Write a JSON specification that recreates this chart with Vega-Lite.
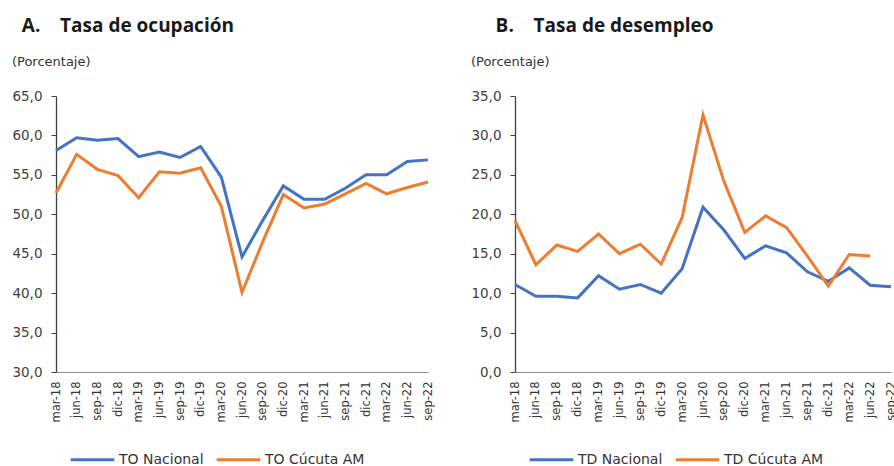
{
  "$schema": "https://vega.github.io/schema/vega-lite/v6.json",
  "padding": {"left": 11, "top": 17, "right": 0, "bottom": 0},
  "background": "white",
  "config": {
    "locale": {"number": {"decimal": ",", "thousands": ".", "grouping": [3], "currency": ["$", ""]}},
    "view": {"stroke": null},
    "font": "DejaVu Sans",
    "concat": {"spacing": 36},
    "axisX": {"labelAngle": -90, "labelFont": "DejaVu Sans", "labelFontSize": 11.5, "labelColor": "#333333", "ticks": false, "domainColor": "#8c8c8c", "domainWidth": 1.2, "labelPadding": 9, "grid": false, "title": null, "labelAlign": "right", "labelBaseline": "middle"},
    "axisY": {"labelFont": "DejaVu Sans", "labelFontSize": 13.5, "labelColor": "#404040", "tickSize": 5, "tickColor": "#404040", "domainColor": "#404040", "domainWidth": 1.3, "labelPadding": 9, "grid": false, "title": null, "format": ".1f"},
    "legend": {"orient": "none", "direction": "horizontal", "symbolType": "stroke", "symbolSize": 1900, "symbolStrokeWidth": 3, "labelFont": "DejaVu Sans", "labelFontSize": 14, "labelColor": "#333333", "labelOffset": 3, "columnPadding": 6, "title": null, "legendX": 13, "legendY": 340},
    "title": {"anchor": "start", "frame": "bounds", "font": "Open Sans", "fontSize": 19, "fontWeight": "bold", "color": "#1a1a1a", "subtitleFont": "DejaVu Sans", "subtitleFontSize": 13, "subtitleColor": "#333333", "subtitlePadding": 20, "offset": 20}
  },
  "datasets": {
    "ocup": [
      {"periodo": "mar-18", "serie": "TO Nacional", "valor": 58.1},
      {"periodo": "jun-18", "serie": "TO Nacional", "valor": 59.7},
      {"periodo": "sep-18", "serie": "TO Nacional", "valor": 59.4},
      {"periodo": "dic-18", "serie": "TO Nacional", "valor": 59.6},
      {"periodo": "mar-19", "serie": "TO Nacional", "valor": 57.3},
      {"periodo": "jun-19", "serie": "TO Nacional", "valor": 57.9},
      {"periodo": "sep-19", "serie": "TO Nacional", "valor": 57.2},
      {"periodo": "dic-19", "serie": "TO Nacional", "valor": 58.6},
      {"periodo": "mar-20", "serie": "TO Nacional", "valor": 54.7},
      {"periodo": "jun-20", "serie": "TO Nacional", "valor": 44.6},
      {"periodo": "sep-20", "serie": "TO Nacional", "valor": 49.2},
      {"periodo": "dic-20", "serie": "TO Nacional", "valor": 53.6},
      {"periodo": "mar-21", "serie": "TO Nacional", "valor": 51.9},
      {"periodo": "jun-21", "serie": "TO Nacional", "valor": 51.9},
      {"periodo": "sep-21", "serie": "TO Nacional", "valor": 53.3},
      {"periodo": "dic-21", "serie": "TO Nacional", "valor": 55.0},
      {"periodo": "mar-22", "serie": "TO Nacional", "valor": 55.0},
      {"periodo": "jun-22", "serie": "TO Nacional", "valor": 56.7},
      {"periodo": "sep-22", "serie": "TO Nacional", "valor": 56.9},
      {"periodo": "mar-18", "serie": "TO Cúcuta AM", "valor": 52.7},
      {"periodo": "jun-18", "serie": "TO Cúcuta AM", "valor": 57.6},
      {"periodo": "sep-18", "serie": "TO Cúcuta AM", "valor": 55.7},
      {"periodo": "dic-18", "serie": "TO Cúcuta AM", "valor": 54.9},
      {"periodo": "mar-19", "serie": "TO Cúcuta AM", "valor": 52.1},
      {"periodo": "jun-19", "serie": "TO Cúcuta AM", "valor": 55.4},
      {"periodo": "sep-19", "serie": "TO Cúcuta AM", "valor": 55.2},
      {"periodo": "dic-19", "serie": "TO Cúcuta AM", "valor": 55.9},
      {"periodo": "mar-20", "serie": "TO Cúcuta AM", "valor": 51.0},
      {"periodo": "jun-20", "serie": "TO Cúcuta AM", "valor": 40.1},
      {"periodo": "sep-20", "serie": "TO Cúcuta AM", "valor": 46.5},
      {"periodo": "dic-20", "serie": "TO Cúcuta AM", "valor": 52.5},
      {"periodo": "mar-21", "serie": "TO Cúcuta AM", "valor": 50.8},
      {"periodo": "jun-21", "serie": "TO Cúcuta AM", "valor": 51.3},
      {"periodo": "sep-21", "serie": "TO Cúcuta AM", "valor": 52.6},
      {"periodo": "dic-21", "serie": "TO Cúcuta AM", "valor": 53.9},
      {"periodo": "mar-22", "serie": "TO Cúcuta AM", "valor": 52.6},
      {"periodo": "jun-22", "serie": "TO Cúcuta AM", "valor": 53.4},
      {"periodo": "sep-22", "serie": "TO Cúcuta AM", "valor": 54.1}
    ],
    "desemp": [
      {"periodo": "mar-18", "serie": "TD Nacional", "valor": 11.1},
      {"periodo": "jun-18", "serie": "TD Nacional", "valor": 9.6},
      {"periodo": "sep-18", "serie": "TD Nacional", "valor": 9.6},
      {"periodo": "dic-18", "serie": "TD Nacional", "valor": 9.4},
      {"periodo": "mar-19", "serie": "TD Nacional", "valor": 12.2},
      {"periodo": "jun-19", "serie": "TD Nacional", "valor": 10.5},
      {"periodo": "sep-19", "serie": "TD Nacional", "valor": 11.1},
      {"periodo": "dic-19", "serie": "TD Nacional", "valor": 10.0},
      {"periodo": "mar-20", "serie": "TD Nacional", "valor": 13.1},
      {"periodo": "jun-20", "serie": "TD Nacional", "valor": 20.9},
      {"periodo": "sep-20", "serie": "TD Nacional", "valor": 18.0},
      {"periodo": "dic-20", "serie": "TD Nacional", "valor": 14.4},
      {"periodo": "mar-21", "serie": "TD Nacional", "valor": 16.0},
      {"periodo": "jun-21", "serie": "TD Nacional", "valor": 15.1},
      {"periodo": "sep-21", "serie": "TD Nacional", "valor": 12.7},
      {"periodo": "dic-21", "serie": "TD Nacional", "valor": 11.5},
      {"periodo": "mar-22", "serie": "TD Nacional", "valor": 13.2},
      {"periodo": "jun-22", "serie": "TD Nacional", "valor": 11.0},
      {"periodo": "sep-22", "serie": "TD Nacional", "valor": 10.8},
      {"periodo": "mar-18", "serie": "TD Cúcuta AM", "valor": 19.2},
      {"periodo": "jun-18", "serie": "TD Cúcuta AM", "valor": 13.6},
      {"periodo": "sep-18", "serie": "TD Cúcuta AM", "valor": 16.1},
      {"periodo": "dic-18", "serie": "TD Cúcuta AM", "valor": 15.3},
      {"periodo": "mar-19", "serie": "TD Cúcuta AM", "valor": 17.5},
      {"periodo": "jun-19", "serie": "TD Cúcuta AM", "valor": 15.0},
      {"periodo": "sep-19", "serie": "TD Cúcuta AM", "valor": 16.2},
      {"periodo": "dic-19", "serie": "TD Cúcuta AM", "valor": 13.7},
      {"periodo": "mar-20", "serie": "TD Cúcuta AM", "valor": 19.6},
      {"periodo": "jun-20", "serie": "TD Cúcuta AM", "valor": 32.6},
      {"periodo": "sep-20", "serie": "TD Cúcuta AM", "valor": 24.2},
      {"periodo": "dic-20", "serie": "TD Cúcuta AM", "valor": 17.7},
      {"periodo": "mar-21", "serie": "TD Cúcuta AM", "valor": 19.8},
      {"periodo": "jun-21", "serie": "TD Cúcuta AM", "valor": 18.3},
      {"periodo": "sep-21", "serie": "TD Cúcuta AM", "valor": 14.7},
      {"periodo": "dic-21", "serie": "TD Cúcuta AM", "valor": 10.9},
      {"periodo": "mar-22", "serie": "TD Cúcuta AM", "valor": 14.9},
      {"periodo": "jun-22", "serie": "TD Cúcuta AM", "valor": 14.7}
    ]
  },
  "resolve": {"scale": {"color": "independent", "y": "independent", "x": "independent"}},
  "hconcat": [
    {
      "width": 372,
      "height": 276,
      "title": {"text": "\u200b\u00a0\u00a0A.\u00a0\u00a0\u00a0\u00a0Tasa de ocupación", "subtitle": "(Porcentaje)"},
      "data": {"name": "ocup"},
      "mark": {"type": "line", "strokeWidth": 3},
      "encoding": {
        "x": {"field": "periodo", "type": "ordinal", "sort": null, "scale": {"padding": 0}},
        "y": {"field": "valor", "type": "quantitative", "scale": {"domain": [30, 65], "nice": false, "zero": false}, "axis": {"values": [30, 35, 40, 45, 50, 55, 60, 65]}},
        "color": {"field": "serie", "type": "nominal", "sort": null, "scale": {"domain": ["TO Nacional", "TO Cúcuta AM"], "range": ["#4472C4", "#ED7D31"]}}
      }
    },
    {
      "width": 376,
      "height": 276,
      "title": {"text": "\u200b\u00a0\u00a0\u00a0\u00a0\u00a0B.\u00a0\u00a0\u00a0\u00a0Tasa de desempleo", "subtitle": "(Porcentaje)"},
      "data": {"name": "desemp"},
      "mark": {"type": "line", "strokeWidth": 3},
      "encoding": {
        "x": {"field": "periodo", "type": "ordinal", "sort": null, "scale": {"padding": 0}},
        "y": {"field": "valor", "type": "quantitative", "scale": {"domain": [0, 35], "nice": false}, "axis": {"values": [0, 5, 10, 15, 20, 25, 30, 35]}},
        "color": {"field": "serie", "type": "nominal", "sort": null, "scale": {"domain": ["TD Nacional", "TD Cúcuta AM"], "range": ["#4472C4", "#ED7D31"]}}
      }
    }
  ]
}
